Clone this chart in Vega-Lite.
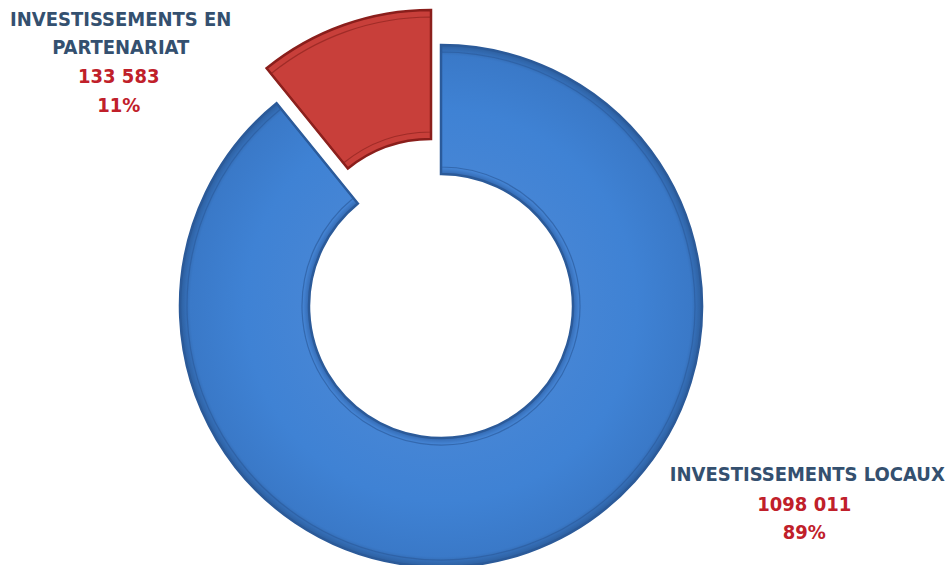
{
  "$schema": "https://vega.github.io/schema/vega-lite/v6.json",
  "width": 882,
  "height": 518,
  "autosize": {"type": "none"},
  "padding": {"left": 0, "right": 65, "top": 47, "bottom": 0},
  "background": "white",
  "view": {"stroke": null},
  "data": {"values": [
    {"cat": "INVESTISSEMENTS LOCAUX", "title": "INVESTISSEMENTS  LOCAUX", "value": 1098011, "valueLabel": "1098 011\n89%", "order": 1},
    {"cat": "INVESTISSEMENTS EN PARTENARIAT", "title": "INVESTISSEMENTS  EN\nPARTENARIAT", "value": 133583, "valueLabel": "133 583\n11%", "order": 2}
  ]},
  "encoding": {
    "theta": {"field": "value", "type": "quantitative", "stack": true},
    "order": {"field": "order", "type": "quantitative"}
  },
  "layer": [
    {
      "mark": {
        "type": "arc", "outerRadius": 261, "innerRadius": 132,
        "stroke": "#2b5a99", "strokeWidth": 2.5,
        "fill": {"gradient": "radial", "x1": 0.5, "y1": 0.5, "r1": 0, "x2": 0.5, "y2": 0.5, "r2": 0.5,
          "stops": [
            {"offset": 0.5, "color": "#2f62a8"},
            {"offset": 0.53, "color": "#4585d5"},
            {"offset": 0.75, "color": "#3f82d4"},
            {"offset": 0.96, "color": "#3a79c8"},
            {"offset": 1, "color": "#2d5f9f"}
          ]}
      },
      "encoding": {"opacity": {"condition": {"test": "datum.order == 1", "value": 1}, "value": 0}}
    },
    {
      "mark": {"type": "arc", "outerRadius": 254, "innerRadius": 139, "fill": null, "stroke": "#2c5d9e", "strokeWidth": 1.2, "strokeOpacity": 0.7},
      "encoding": {"opacity": {"condition": {"test": "datum.order == 1", "value": 1}, "value": 0}}
    },
    {
      "mark": {
        "type": "arc", "outerRadius": 261, "innerRadius": 132, "xOffset": -10, "yOffset": -35,
        "fill": "#c83f3a", "stroke": "#8a1e1b", "strokeWidth": 2.5
      },
      "encoding": {"opacity": {"condition": {"test": "datum.order == 2", "value": 1}, "value": 0}}
    },
    {
      "mark": {"type": "arc", "outerRadius": 254, "innerRadius": 139, "xOffset": -10, "yOffset": -35, "fill": null, "stroke": "#8e2420", "strokeWidth": 1.2, "strokeOpacity": 0.7},
      "encoding": {"opacity": {"condition": {"test": "datum.order == 2", "value": 1}, "value": 0}}
    },
    {
      "mark": {"type": "text", "radius": 300, "dx": -220, "dy": -3, "font": "Liberation Sans Narrow, DejaVu Sans Condensed, sans-serif", "fontSize": 20, "fontWeight": "bold", "color": "#34506f", "lineBreak": "\n", "lineHeight": 28, "align": "center", "baseline": "middle"},
      "encoding": {"text": {"field": "title"}, "opacity": {"condition": {"test": "datum.order == 2", "value": 1}, "value": 0}}
    },
    {
      "mark": {"type": "text", "radius": 300, "dx": -222, "dy": 54, "font": "Liberation Sans Narrow, DejaVu Sans Condensed, sans-serif", "fontSize": 20, "fontWeight": "bold", "color": "#c0202a", "lineBreak": "\n", "lineHeight": 29, "align": "center", "baseline": "middle"},
      "encoding": {"text": {"field": "valueLabel"}, "opacity": {"condition": {"test": "datum.order == 2", "value": 1}, "value": 0}}
    },
    {
      "mark": {"type": "text", "radius": 300, "dx": 266, "dy": -114, "font": "Liberation Sans Narrow, DejaVu Sans Condensed, sans-serif", "fontSize": 20, "fontWeight": "bold", "color": "#34506f", "lineBreak": "\n", "lineHeight": 28, "align": "center", "baseline": "middle"},
      "encoding": {"text": {"field": "title"}, "opacity": {"condition": {"test": "datum.order == 1", "value": 1}, "value": 0}}
    },
    {
      "mark": {"type": "text", "radius": 300, "dx": 263, "dy": -84, "font": "Liberation Sans Narrow, DejaVu Sans Condensed, sans-serif", "fontSize": 20, "fontWeight": "bold", "color": "#c0202a", "lineBreak": "\n", "lineHeight": 28, "align": "center", "baseline": "middle"},
      "encoding": {"text": {"field": "valueLabel"}, "opacity": {"condition": {"test": "datum.order == 1", "value": 1}, "value": 0}}
    }
  ]
}
